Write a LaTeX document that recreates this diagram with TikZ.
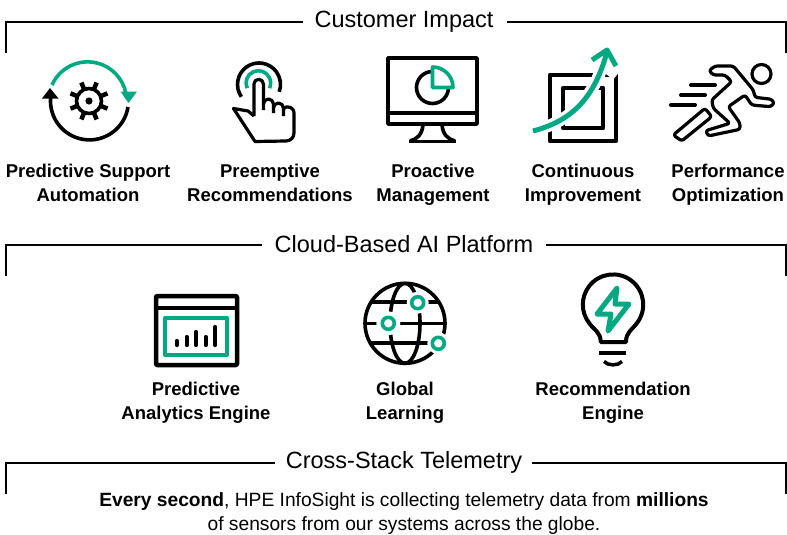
\documentclass[tikz,border=0pt]{standalone}
\usepackage{fontspec}
\setmainfont{Liberation Sans}
\definecolor{hpegreen}{HTML}{01A982}
\tikzset{
	title/.style={font=\fontsize{23.5}{24}\selectfont,inner sep=0pt},
	label/.style={font=\fontsize{18.5}{24}\selectfont\bfseries,align=center,inner sep=0pt},
	note/.style={font=\fontsize{19.2}{24}\selectfont,align=center,inner sep=0pt},
	frame/.style={line width=1.8pt},
	icon/.style={line width=3.6pt,line join=round},
	greenicon/.style={icon,hpegreen}
}
\begin{document}
\begin{tikzpicture}[x=1pt,y=-1pt]
	\useasboundingbox (0,0) rectangle (787,535);
	% frames
	\node[title] (impact) at (404,22) {Customer Impact};
	\coordinate (impactA) at (6,53);
	\coordinate (impactB) at (786,53);
	\draw[frame] (impact.west |- 0,22) ++(-11,0) -| (impactA);
	\draw[frame] (impact.east |- 0,22) ++(13,0) -| (impactB);
	\node[title] (platform) at (404,244) {Cloud-Based AI Platform};
	\coordinate (platformA) at (6,276);
	\coordinate (platformB) at (786,276);
	\draw[frame] (platform.west |- 0,245) ++(-12,0) -| (platformA);
	\draw[frame] (platform.east |- 0,245) ++(12,0) -| (platformB);
	\node[title] (telemetry) at (404,462) {Cross-Stack Telemetry};
	\coordinate (telemetryA) at (6,494);
	\coordinate (telemetryB) at (786,494);
	\draw[frame] (telemetry.west |- 0,463) ++(-11,0) -| (telemetryA);
	\draw[frame] (telemetry.east |- 0,463) ++(10,0) -| (telemetryB);
	% labels
	\node[label] (support) at (88,183) {Predictive Support\\Automation};
	\node[label] (preempt) at (270,183) {Preemptive\\Recommendations};
	\node[label] (manage) at (433,185) {Proactive\\Management};
	\node[label] (improve) at (583,185) {Continuous\\Improvement};
	\node[label] (perform) at (728,185) {Performance\\Optimization};
	\node[label] (analytics) at (196,403) {Predictive\\Analytics Engine};
	\node[label] (learning) at (405,403) {Global\\Learning};
	\node[label] (engine) at (613,403) {Recommendation\\Engine};
	\node[note] (sensors) at (404,514) {\textbf{Every second}, HPE InfoSight is collecting telemetry data from \textbf{millions}\\of sensors from our systems across the globe.};
	% support icon
	\draw[greenicon] (52,85) arc (204:356:39);
	\fill[hpegreen] (120.5,91.5) -- (137,91.5) -- (128.5,103) -- cycle;
	\draw[icon] (128,107) arc (9:185:39);
	\fill (42,98.5) -- (58.5,98.5) -- (50,88) -- cycle;
	\draw[line width=3.6pt] (89,101) circle (12.5);
	\fill (89,101) circle (3.6);
	\foreach \a in {0,45,...,315}
		\draw[line width=4.5pt] (89,101) ++(\a+22.5:12) -- ++(\a+22.5:8);
	% preempt icon
	\draw[icon] (241.4,96.8) arc (145:380:21.5);
	\draw[greenicon] (247.2,88.2) arc (155:385:12.3);
	\draw[icon,line width=3.2pt] (254,116) -- (254,84) arc (180:360:4.7) -- (263.4,110);
	\draw[icon,line width=3.2pt] (263.4,104) arc (180:360:5) -- (273.4,113);
	\draw[icon,line width=3.2pt] (273.4,108) arc (180:360:5) -- (283.4,116);
	\draw[icon,line width=3.2pt] (283.4,110) arc (180:270:3) -- (288,107) arc (-90:0:6) -- (294,133) arc (0:90:8) -- (255,141.5) -- (233.5,108.5) -- (248,111) -- (254,116);
	% manage icon
	\draw[icon] (388,58) rectangle (477,124);
	\draw[icon] (388,113) -- (477,113);
	\draw[icon] (423,125) .. controls (422,135) and (417,139) .. (410,141);
	\draw[icon] (442,125) .. controls (443,135) and (448,139) .. (455,141);
	\draw[icon] (409,141.5) -- (456,141.5);
	\draw[icon] (432.5,87.5) circle (16);
	\fill[white] (432.5,87.5) rectangle (453,67);
	\draw[greenicon] (432.5,87.5) -- (432.5,67) arc (-90:0:20.5) -- cycle;
	% improve icon
	\draw[icon,line width=4.5pt] (550,75) rectangle (616,141);
	\draw[icon,line width=4.5pt] (563,88) rectangle (603,128);
	\draw[white,line width=12pt] (533,131) .. controls (575,120) and (595,95) .. (607,52);
	\draw[white,line width=9pt] (600,64) -- (616,76);
	\draw[greenicon,line width=5pt] (533,131) .. controls (575,120) and (595,95) .. (607,52);
	\draw[greenicon,line width=5pt] (592,60) -- (607,50) -- (616,66);
	% perform icon
	\draw[icon,line width=3.2pt] (761.5,74) circle (9.5);
	\draw[icon,line width=3.2pt,rounded corners=2.5pt] (715,66) -- (733.3,66) -- (753.3,90) -- (755,97.3) -- (771.7,99.3) -- (774.3,103.3) -- (770.7,106.7) -- (751.7,105) -- (745,95) -- (728.3,106.7) -- (740,123.3) -- (740,129.3) -- (708.3,136) -- (705.7,130.7) -- (730,123.3) -- (713.3,108.3) -- (711.7,100) -- (731.7,81.7) -- (725,75) -- (713.3,75) -- (709,70.7) -- cycle;
	\draw[icon,line width=3.2pt,rounded corners=2.5pt] (705,108.3) -- (711.7,116.7) -- (681.7,141) -- (673.3,135) -- cycle;
	\draw[line width=4pt,line cap=round] (691,85) -- (715,85);
	\draw[line width=4pt,line cap=round] (681,95) -- (705,95);
	\draw[line width=4pt,line cap=round] (671,105) -- (695,105);
	% analytics icon
	\draw[icon,line width=4.5pt,rounded corners=1pt] (156,296) rectangle (237,365);
	\draw[line width=4.5pt] (156,308) -- (237,308);
	\draw[greenicon,line width=4pt] (165,318) rectangle (227,355);
	\foreach \x/\y in {176.7/341,186.7/337,196/332,205.7/337,215.3/327}
		\draw[line width=4.2pt,line cap=round] (\x,345) -- (\x,\y);
	% learning icon
	\draw[icon] (405,323.3) circle (40);
	\draw[icon] (405,283.3) arc (-90:-270:15 and 40);
	\draw[icon] (405,283.3) arc (-90:90:15 and 40);
	\draw[icon] (370,301.7) -- (440,301.7);
	\draw[icon] (365,323.3) -- (445,323.3);
	\draw[icon] (370,342.7) -- (440,342.7);
	\fill[white] (417.7,302.7) circle (11);
	\fill[white] (388.3,323.3) circle (12);
	\fill[white] (438.3,343.3) circle (11);
	\draw[greenicon] (417.7,302.7) circle (6);
	\draw[greenicon] (388.3,323.3) circle (6);
	\draw[greenicon] (438.3,343.3) circle (6);
	% engine icon
	\draw[icon,line width=4pt] (600.7,342) -- (626,342) .. controls (626,332) and (632,330) .. (637,323) arc (37.5:-217.5:30.2) .. controls (594,330) and (600.7,332) .. (600.7,342) -- cycle;
	\draw[icon,line width=4pt] (599,353) -- (626,353);
	\draw[icon,line width=3.5pt] (604,361.5) .. controls (608,366) and (618,366) .. (622,361.5);
	\draw[greenicon,line width=5pt] (617,288) -- (597,314) -- (611,314) -- (608,331) -- (629,304) -- (615,304) -- cycle;
\end{tikzpicture}
\end{document}
